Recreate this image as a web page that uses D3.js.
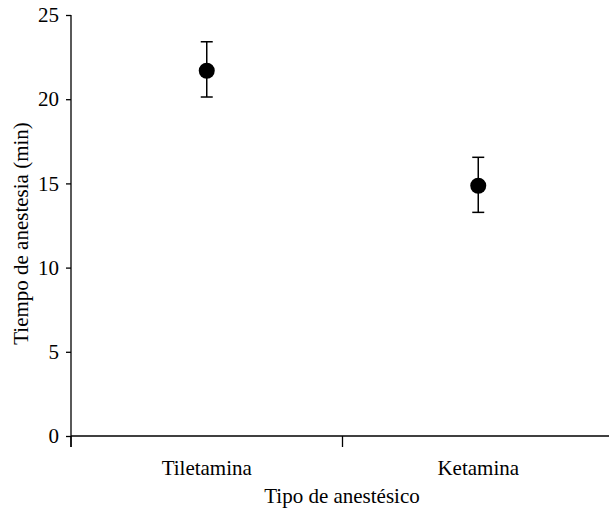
<!DOCTYPE html>
<html><head><meta charset="utf-8">
<script src="https://cdn.jsdelivr.net/npm/d3@7"></script>
<style>body{margin:0;background:#fff}svg{display:block}svg text{font-family:"Liberation Serif" !important}</style>
</head><body>
<script>
const categories = ["Tiletamina", "Ketamina"];
const means = [21.69, 14.86];
const upper = [23.41, 16.55];
const lower = [20.13, 13.28];
const yTicks = [0, 5, 10, 15, 20, 25];

const FONT = '"Liberation Serif"';
const W = 609, H = 511;
const svg = d3.select("body").append("svg").attr("width", W).attr("height", H)
  .style("font-family", FONT);
const x0 = 71, x1 = 614, yTop = 15, yBot = 436;
const x = d3.scaleBand().domain(categories).range([x0, x1]);
const y = d3.scaleLinear().domain([0, 25]).range([yBot, yTop]);

const fs = "21px";
function txt(sel) { return sel.style("font-family", FONT).style("font-size", fs).attr("fill", "#000"); }

// y axis
const ya = svg.append("g").attr("transform", `translate(${x0},0)`)
  .call(d3.axisLeft(y).tickValues(yTicks).tickSize(5).tickPadding(7));
ya.attr("font-family", null).attr("font-size", null);
ya.select(".domain").attr("d", `M-0,${yTop}V${yBot + 11}`);
txt(ya.selectAll("text"));
ya.selectAll("line,path").attr("stroke", "#000").attr("stroke-width", 1.3);

// x axis
const xa = svg.append("g").attr("transform", `translate(0,${yBot})`);
xa.append("line").attr("x1", x0).attr("x2", x1).attr("stroke", "#000").attr("stroke-width", 1.3);
const bounds = [x0, x0 + x.bandwidth()];
xa.selectAll("line.tk").data(bounds).enter().append("line").attr("class", "tk")
  .attr("x1", d => d).attr("x2", d => d).attr("y1", 0).attr("y2", 11)
  .attr("stroke", "#000").attr("stroke-width", 1.3);
txt(xa.selectAll("text.cat").data(categories).enter().append("text").attr("class", "cat")
  .attr("x", d => x(d) + x.bandwidth() / 2).attr("y", 39)
  .attr("text-anchor", "middle").text(d => d));

// titles
txt(svg.append("text").attr("x", 342).attr("y", 503).attr("text-anchor", "middle")
  .text("Tipo de anestésico"));
txt(svg.append("text").attr("transform", `translate(28,${(yTop + yBot) / 2 + 8}) rotate(-90)`)
  .attr("text-anchor", "middle").text("Tiempo de anestesia (min)"));

// error bars and points
const g = svg.append("g");
categories.forEach((c, i) => {
  const cx = x(c) + x.bandwidth() / 2;
  g.append("line").attr("x1", cx).attr("x2", cx).attr("y1", y(upper[i])).attr("y2", y(lower[i]))
    .attr("stroke", "#000").attr("stroke-width", 1.5);
  [upper[i], lower[i]].forEach(v => {
    g.append("line").attr("x1", cx - 6).attr("x2", cx + 6).attr("y1", y(v)).attr("y2", y(v))
      .attr("stroke", "#000").attr("stroke-width", 1.5);
  });
  g.append("circle").attr("cx", cx).attr("cy", y(means[i])).attr("r", 8).attr("fill", "#000");
});
</script>
</body></html>
